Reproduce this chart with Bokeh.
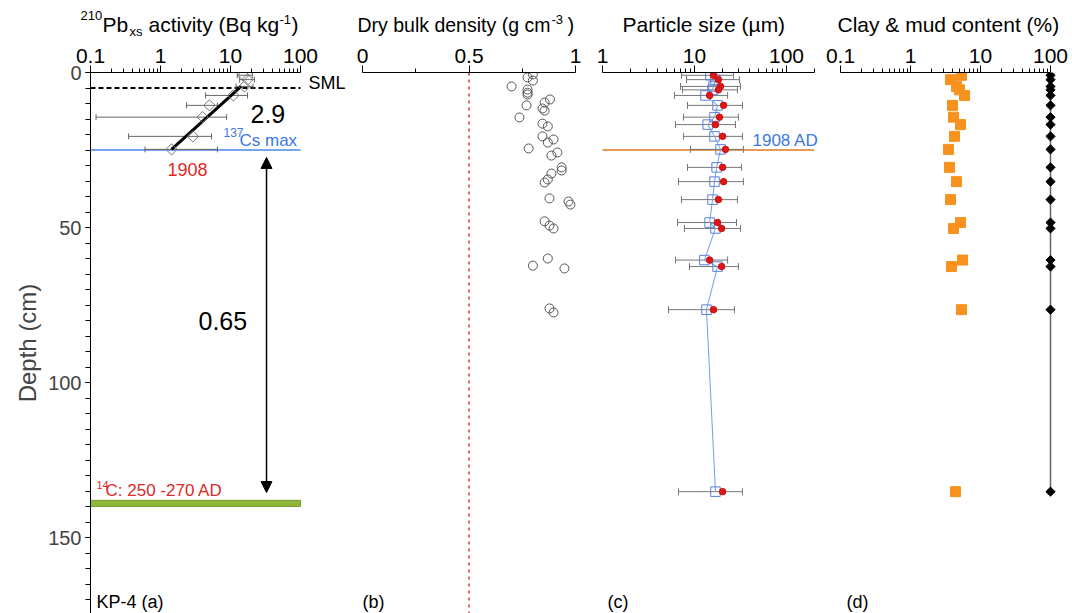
import math
from bokeh.plotting import figure
from bokeh.models import (Range1d, FixedTicker, CustomJSTickFormatter, Label,
                          Arrow, NormalHead)
from bokeh.layouts import row, column
from bokeh.embed import file_html
from bokeh.resources import INLINE

FONT = "Liberation Sans"

# ---------------- data ----------------
# (a) 210Pb excess activity
pb_depth = [0.9, 2.3, 4.5, 7.4, 10.6, 14.4, 20.6, 24.8]
pb_value = [15.3, 17.5, 15.8, 11.0, 5.0, 4.0, 2.9, 1.44]
pb_low = [12.5, 13.5, 12.0, 4.4, 2.35, 0.12, 0.35, 0.6]
pb_high = [20.5, 22.0, 21.0, 17.5, 6.5, 8.8, 5.35, 6.5]
fit_depth = [4.5, 24.8]
fit_value = [14.2, 1.44]
sml_depth = 5
cs_depth = 25
c14_depth = 139
arrow_x = 32.7
arrow_top = 27.4
arrow_bottom = 135.5

# (b) dry bulk density
dens_depth = [0.6, 1.6, 2.6, 4.5, 5.5, 6.5, 7.1, 8.7, 9.7, 10.6, 11.6, 12.3, 14.5,
              16.5, 17.4, 20.6, 21.6, 22.6, 24.5, 25.8, 26.8, 30.6, 31.6, 32.6,
              34.5, 35.5, 40.6, 41.6, 42.6, 48.0, 49.4, 50.3, 60.0, 62.3, 63.2,
              76.1, 77.4]
dens_value = [0.80, 0.775, 0.80, 0.70, 0.775, 0.775, 0.775, 0.88, 0.855, 0.77,
              0.845, 0.855, 0.737, 0.845, 0.87, 0.845, 0.897, 0.87, 0.78, 0.915,
              0.887, 0.935, 0.935, 0.887, 0.87, 0.855, 0.878, 0.967, 0.976, 0.855,
              0.878, 0.897, 0.87, 0.80, 0.948, 0.878, 0.897]
dens_ref = 0.5

# (c) particle size and (d) clay & mud content, per sample
sample_depth = [0.9, 2.3, 4.5, 5.6, 7.4, 10.6, 14.4, 16.8, 20.6, 24.8, 30.6, 35.2,
                41.0, 48.4, 50.3, 60.5, 62.6, 76.5, 135.2]
size_mean = [14.9, 16.9, 16.1, 15.7, 13.2, 17.8, 16.5, 13.9, 16.5, 19.2, 17.4, 16.5,
             15.7, 14.6, 16.9, 12.8, 17.8, 13.5, 16.9]
size_median = [16.1, 18.2, 19.2, 18.2, 14.6, 20.7, 18.7, 16.9, 20.2, 21.7, 20.2, 20.7,
               18.2, 17.8, 19.7, 14.6, 19.7, 16.1, 20.2]
size_low = [7.22, 8.18, 7.04, 7.4, 6.06, 8.39, 7.59, 6.22, 7.59, 9.05, 8.39, 6.7,
            7.22, 6.54, 7.78, 6.22, 8.83, 5.22, 6.7]
size_high = [26.5, 30.8, 31.6, 29.3, 22.9, 33.2, 30.0, 27.9, 33.2, 34.0, 32.4, 34.0,
             29.3, 28.6, 31.6, 22.9, 30.0, 27.2, 33.2]
clay = [5.35, 3.73, 4.54, 5.0, 5.91, 3.98, 4.11, 5.18, 4.25, 3.49, 3.61, 4.54, 3.73,
        5.18, 4.11, 5.53, 3.85, 5.35, 4.39]
mud = [100, 100, 100, 100, 100, 100, 100, 100, 100, 100, 100, 100, 100, 100, 100,
       100, 100, 100, 100]

# ticks and axis extents
log_major_a = [0.1, 1, 10, 100]
log_minor_a = [0.2, 0.3, 0.4, 0.5, 0.6, 0.7, 0.8, 0.9, 2, 3, 4, 5, 6, 7, 8, 9,
               20, 30, 40, 50, 60, 70, 80, 90]
lin_major_b = [0, 0.5, 1]
lin_minor_b = [0.25, 0.75]
log_major_c = [1, 10, 100]
log_minor_c = [2, 3, 4, 5, 6, 7, 8, 9, 20, 30, 40, 50, 60, 70, 80, 90, 200]
depth_major = [0, 50, 100, 150]
depth_minor = list(range(0, 175, 5))
bounds_a = (0.1, 100)
bounds_b = (0, 1)
bounds_c = (1, 200)
bounds_d = (0.1, 100)

# ---------------- layout (page pixels) ----------------
W = 1072
TITLE_H = 40
FRAME_TOP = 72
FRAME_BOTTOM = 613
PLOT_H = FRAME_BOTTOM - TITLE_H
DEPTH_MAX = 174.5
BASE_SHIFT = 0.42   # Bokeh label baseline offset, in em

fmt = CustomJSTickFormatter(code="return String(tick)")


def make_fig(width, left, x_range, xtype, bounds, yaxis=False):
    p = figure(width=width, height=PLOT_H, x_range=x_range,
               y_range=Range1d(DEPTH_MAX, 0), x_axis_type=xtype,
               x_axis_location="above", y_axis_location="left" if yaxis else None,
               output_backend="svg", toolbar_location=None)
    p.min_border_left = left
    p.min_border_right = 0
    p.min_border_top = FRAME_TOP - TITLE_H
    p.min_border_bottom = 0
    p.outline_line_color = None
    p.grid.visible = False
    p.background_fill_color = "white"
    p.border_fill_color = "white"
    ax = p.xaxis[0]
    ax.bounds = bounds
    ax.axis_line_color = "black"
    ax.major_tick_line_color = "black"
    ax.minor_tick_line_color = "black"
    ax.major_tick_in = 0
    ax.major_tick_out = 7
    ax.minor_tick_in = 0
    ax.minor_tick_out = 4
    ax.major_label_text_font = FONT
    ax.major_label_text_font_size = "21px"
    ax.major_label_text_color = "black"
    ax.major_label_standoff = 3
    ax.formatter = fmt
    return p


def txt(p, fl, X, Y, text, size, color="black", align="left"):
    yb = Y - BASE_SHIFT * size
    p.add_layout(Label(x=X - fl, y=FRAME_BOTTOM - yb, x_units="screen", y_units="screen",
                       text=text, text_font=FONT, text_font_size=f"{size}px",
                       text_color=color, text_align=align, text_baseline="alphabetic"))


def errbars(p, y, lo, hi, color, cap=6):
    p.segment(x0=lo, y0=y, x1=hi, y1=y, line_color=color, line_width=1)
    p.scatter(x=lo, y=y, marker="dash", angle=math.pi / 2, size=cap, line_color=color)
    p.scatter(x=hi, y=y, marker="dash", angle=math.pi / 2, size=cap, line_color=color)


RED = "#dd2a26"
BLUE = "#3b78e0"

# ---------------- titles strip ----------------
pt = figure(width=W, height=TITLE_H, x_range=Range1d(0, W), y_range=Range1d(TITLE_H, 0),
            x_axis_location=None, y_axis_location=None, output_backend="svg",
            toolbar_location=None)
pt.min_border = 0
pt.outline_line_color = None
pt.grid.visible = False


def ttl(X, Y, text, size, color="black"):
    pt.add_layout(Label(x=X, y=Y - BASE_SHIFT * size, text=text, text_font=FONT,
                        text_font_size=f"{size}px", text_color=color,
                        text_align="left", text_baseline="alphabetic"))


ttl(80, 20, "210", 13)
ttl(102, 33, "Pb", 21)
ttl(129, 36.5, "xs", 13)
ttl(148, 33, "activity (Bq kg", 21)
ttl(279, 24, "-1", 13)
ttl(291, 33, ")", 21)
ttl(357, 33, "Dry bulk density (g cm", 19.5)
ttl(551, 24, "-3", 13)
ttl(567, 33, ")", 20)
ttl(622, 33, "Particle size (\u00b5m)", 21)
ttl(837, 33, "Clay & mud content (%)", 21)

# ---------------- (a) ----------------
FL1 = 90
R1 = 352
p1 = make_fig(R1, FL1, Range1d(0.1, 0.1 * 10 ** ((R1 - 90) / 70)), "log", bounds_a,
              yaxis=True)
p1.xaxis[0].ticker = FixedTicker(ticks=log_major_a, minor_ticks=log_minor_a)
ay = p1.yaxis[0]
ay.ticker = FixedTicker(ticks=depth_major, minor_ticks=depth_minor)
ay.axis_line_color = "black"
ay.major_tick_in = 0
ay.major_tick_out = 5
ay.minor_tick_in = 0
ay.minor_tick_out = 5
ay.major_label_text_font = FONT
ay.major_label_text_font_size = "20px"
ay.major_label_standoff = 4
ay.axis_label = "Depth (cm)"
ay.axis_label_text_font = FONT
ay.axis_label_text_font_size = "24px"
ay.axis_label_text_font_style = "normal"
ay.axis_label_standoff = 4

p1.hbar(y=c14_depth, left=0.1, right=100, height=2.0, fill_color="#8fb53a",
        line_color="#7a9d2c", line_width=1)
p1.line(x=[0.1, 100], y=[cs_depth, cs_depth], line_color="#4a86e8", line_width=1.5)
p1.line(x=[0.1, 100], y=[sml_depth, sml_depth], line_color="black", line_width=2,
        line_dash="5 3")
errbars(p1, pb_depth, pb_low, pb_high, "#666666", cap=6)
p1.line(x=fit_value, y=fit_depth, line_color="black", line_width=3)
p1.scatter(x=pb_value, y=pb_depth, marker="square", angle=math.pi / 4, size=8,
           fill_color=None, line_color="#777777", line_width=1)
p1.add_layout(Arrow(start=NormalHead(size=11, fill_color="black", line_color="black"),
                    end=NormalHead(size=11, fill_color="black", line_color="black"),
                    x_start=arrow_x, y_start=arrow_top, x_end=arrow_x, y_end=arrow_bottom,
                    line_width=1.5, line_color="black"))

txt(p1, FL1, 308, 90, "SML", 18)
txt(p1, FL1, 250, 124, "2.9", 25)
txt(p1, FL1, 223, 137, "137", 12, BLUE)
txt(p1, FL1, 239, 147, "Cs max", 17, BLUE)
txt(p1, FL1, 187, 177, "1908", 18, RED, align="center")
txt(p1, FL1, 198, 331, "0.65", 25)
txt(p1, FL1, 96, 489, "14", 11, RED)
txt(p1, FL1, 105, 497, "C: 250 -270 AD", 17, RED)
txt(p1, FL1, 96, 609, "KP-4 (a)", 18)

# ---------------- (b) ----------------
L2, R2 = 352, 590
p2 = make_fig(R2 - L2, 0, Range1d((L2 - 362) / 213, (R2 - 362) / 213), "linear",
              bounds_b)
p2.xaxis[0].ticker = FixedTicker(ticks=lin_major_b, minor_ticks=lin_minor_b)
p2.line(x=[dens_ref, dens_ref], y=[0, DEPTH_MAX], line_color="#e8675f", line_width=2,
        line_dash="3 4")
p2.scatter(x=dens_value, y=dens_depth, marker="circle", size=9, fill_color=None,
           line_color="#555555", line_width=1)
txt(p2, L2, 362, 609, "(b)", 18)

# ---------------- (c) ----------------
L3, R3 = 590, 824
p3 = make_fig(R3 - L3, 0, Range1d(10 ** ((L3 - 602) / 92), 10 ** ((R3 - 602) / 92)),
              "log", bounds_c)
p3.xaxis[0].ticker = FixedTicker(ticks=log_major_c, minor_ticks=log_minor_c)
p3.line(x=[1, 200], y=[cs_depth, cs_depth], line_color="#e39b55", line_width=2)
errbars(p3, sample_depth, size_low, size_high, "#777777", cap=7)
p3.line(x=size_mean, y=sample_depth, line_color="#6d9ef0", line_width=1)
p3.scatter(x=size_mean, y=sample_depth, marker="square", size=9.5, fill_color=None,
           line_color="#5a7fd6", line_width=1)
p3.scatter(x=size_median, y=sample_depth, marker="circle", size=6.5, fill_color="#e01515",
           line_color="#c81010", line_width=1)
txt(p3, L3, 752, 147, "1908 AD", 17, BLUE)
txt(p3, L3, 607, 609, "(c)", 18)

# ---------------- (d) ----------------
L4, R4 = 824, 1072
p4 = make_fig(R4 - L4, 0, Range1d(0.1 * 10 ** ((L4 - 840) / 70),
                                  0.1 * 10 ** ((R4 - 840) / 70)), "log", bounds_d)
p4.xaxis[0].ticker = FixedTicker(ticks=log_major_a, minor_ticks=log_minor_a)
p4.line(x=mud, y=sample_depth, line_color="#666666", line_width=1.5)
p4.scatter(x=clay, y=sample_depth, marker="square", size=10, fill_color="#f7921e",
           line_color="#f7921e", line_width=1)
p4.scatter(x=mud, y=sample_depth, marker="square", angle=math.pi / 4, size=6.5,
           fill_color="black", line_color="black", line_width=1)
txt(p4, L4, 846, 609, "(d)", 18)

layout = column(pt, row(p1, p2, p3, p4))
open("out.html", "w").write(file_html(layout, INLINE))
